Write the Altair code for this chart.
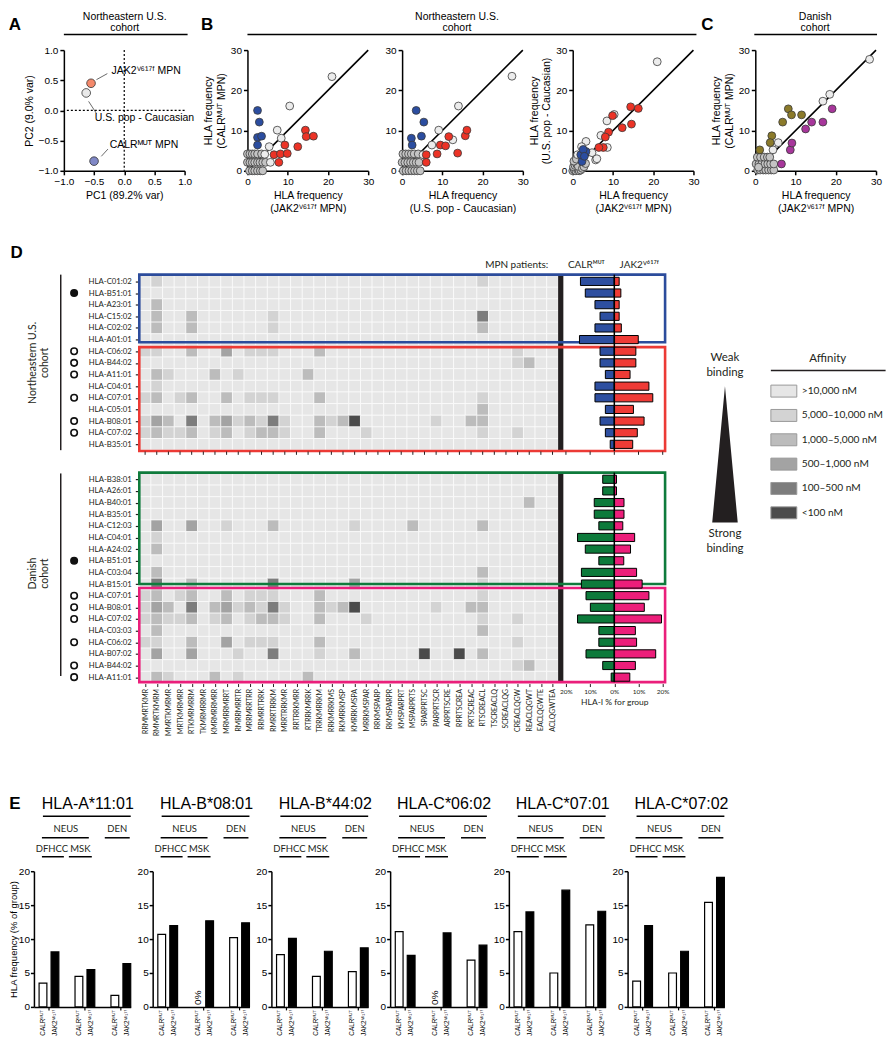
import altair as alt
import pandas as pd

FA = "Liberation Sans"
FD = "Lato"
INK = "#231f20"
ONE = pd.DataFrame({"k": [0]})

# ---------------- Panel A : PCA ----------------
A_GROUP = ["JAK2 MPN", "U.S. pop", "CALR MPN"]
A_PC1 = [-0.55, -0.63, -0.50]
A_PC2 = [0.45, 0.29, -0.84]
A_FILL = ["#f4896b", "#e9e9e9", "#8088c6"]
A_LABEL = ["JAK2ⱽ⁶¹⁷ᶠ MPN", "U.S. pop - Caucasian", "CALRᴹᵁᵀ MPN"]
A_LABEL_X = [-0.21, -0.49, -0.24]
A_LABEL_Y = [0.66, -0.12, -0.57]
A_LEAD_X1 = [-0.46, -0.59, -0.38]
A_LEAD_Y1 = [0.51, 0.15, -0.76]
A_LEAD_X2 = [-0.28, -0.46, -0.27]
A_LEAD_Y2 = [0.61, -0.05, -0.64]

# ---------------- Panel B1 : CALR vs JAK2 (NE) ----------------
B1_GRAY_X = [0.5, 1.2, 1.8, 2.5, 3.2, 3.8, 0.0, 0.6, 1.2, 1.8, 2.5, 3.1, 3.8, 4.5, 0.0, 0.6, 1.2, 1.8, 2.5, 3.5]
B1_GRAY_Y = [0.0, 0.0, 0.0, 0.0, 0.0, 0.0, 2.1, 2.1, 2.1, 2.1, 2.1, 2.1, 2.1, 2.1, 4.2, 4.2, 4.2, 4.2, 4.2, 4.2]
B1_LIGHT_X = [21.0, 10.5, 7.4, 8.4, 5.4, 4.3, 5.7]
B1_LIGHT_Y = [23.4, 16.1, 10.1, 8.1, 6.0, 4.1, 2.1]
B1_BLUE_X = [2.5, 2.95, 2.5, 3.5, 2.5]
B1_BLUE_Y = [15.0, 12.1, 8.3, 8.6, 6.4]
B1_RED_X = [9.3, 6.6, 8.2, 9.9, 7.8, 12.5, 14.4, 14.6, 16.4]
B1_RED_Y = [6.4, 4.0, 4.2, 4.3, 2.1, 6.0, 10.1, 8.5, 8.6]

# ---------------- Panel B2 : CALR vs U.S. pop (NE) ----------------
B2_GRAY_X = [0.3, 1.0, 1.7, 2.4, 3.1, 3.8, 4.5, 0.0, 0.7, 1.4, 2.1, 2.8, 3.5, 4.2, 0.2, 0.9, 1.6, 2.3, 3.0, 4.0]
B2_GRAY_Y = [0.0, 0.0, 0.0, 0.0, 0.0, 0.0, 0.0, 2.1, 2.1, 2.1, 2.1, 2.1, 2.1, 2.1, 4.2, 4.2, 4.2, 4.2, 4.2, 4.2]
B2_LIGHT_X = [27.3, 14.0, 9.1, 12.6, 7.4, 5.2]
B2_LIGHT_Y = [23.5, 16.1, 10.1, 7.7, 6.4, 4.0]
B2_BLUE_X = [3.5, 5.4, 4.8, 2.3, 2.5]
B2_BLUE_Y = [15.0, 12.1, 8.6, 8.1, 6.4]
B2_RED_X = [6.0, 6.0, 8.7, 9.5, 10.8, 11.6, 13.8, 15.7, 16.1]
B2_RED_Y = [4.0, 2.1, 4.2, 6.4, 6.2, 8.5, 4.4, 8.7, 10.1]

# ---------------- Panel B3 : U.S. pop vs JAK2 (NE) ----------------
B3_GRAY_X = [0.0, 0.4, 0.8, 1.2, 1.6, 2.0, 0.2, 0.6, 1.0, 1.4, 2.4, 2.8, 3.2, 0.3, 0.9]
B3_GRAY_Y = [0.0, 0.2, 0.0, 0.3, 0.0, 0.2, 1.0, 1.3, 1.6, 1.1, 0.6, 1.0, 1.8, 2.4, 2.9]
B3_LIGHT_X = [21.0, 10.3, 8.5, 7.0, 8.6, 5.7, 3.3, 2.2, 1.2, 4.8, 6.0]
B3_LIGHT_Y = [27.1, 14.0, 12.4, 8.8, 5.8, 2.7, 7.3, 6.0, 4.0, 4.5, 3.0]
B3_BLUE_X = [2.3, 2.0, 3.3, 2.6, 2.9]
B3_BLUE_Y = [2.3, 4.0, 4.8, 5.3, 3.6]
B3_RED_X = [16.3, 14.4, 14.6, 12.3, 9.9, 8.9, 8.1, 7.6, 6.5]
B3_RED_Y = [15.5, 15.9, 11.6, 10.7, 13.7, 9.6, 8.4, 5.8, 5.8]

# ---------------- Panel C : CALR vs JAK2 (Danish) ----------------
C_GRAY_X = [0.6, 1.2, 2.0, 2.6, 3.3, 4.0, 4.6, 0.2, 0.9, 1.6, 2.4, 3.1, 3.8, 4.6, 0.5, 1.3, 2.2, 3.0, 3.6, 0.8]
C_GRAY_Y = [0.2, 0.2, 0.2, 0.2, 0.2, 0.2, 0.2, 1.7, 1.7, 1.7, 1.7, 1.7, 1.7, 1.7, 3.4, 3.4, 3.4, 3.4, 3.4, 0.9]
C_LIGHT_X = [28.4, 18.5, 16.8, 5.7, 4.4]
C_LIGHT_Y = [27.7, 19.0, 17.3, 7.0, 5.2]
C_OLIVE_X = [1.1, 4.1, 3.7, 6.8, 8.2, 9.0, 11.5]
C_OLIVE_Y = [5.2, 8.7, 7.0, 12.1, 15.4, 13.9, 13.9]
C_MAG_X = [6.5, 8.7, 9.1, 12.5, 14.0, 16.8, 19.1]
C_MAG_Y = [1.7, 5.2, 6.9, 10.4, 12.1, 12.1, 15.4]

# ---------------- Panel D ----------------
PEPTIDES = ["RRMMRTKMR", "RMMRTKMRM", "MMRTKMRMR", "MRTKMRMRR", "RTKMRMRRM", "TKMRMRRMR",
            "KMRMRRMRR", "MRMRRMRRT", "RMRRMRRTR", "MRRMRRTRR", "RRMRRTRRK", "RMRRTRRKM",
            "MRRTRRKMR", "RRTRRKMRR", "RTRRKMRRK", "TRRKMRRKM", "RRKMRRKMS", "RKMRRKMSP",
            "KMRRKMSPA", "MRRKMSPAR", "RRKMSPARP", "RKMSPARPR", "KMSPARPRT", "MSPARPRTS",
            "SPARPRTSC", "PARPRTSCR", "ARPRTSCRE", "RPRTSCREA", "PRTSCREAC", "RTSCREACL",
            "TSCREACLQ", "SCREACLQG", "CREACLQGW", "REACLQGWT", "EACLQGWTE", "ACLQGWTEA"]
NE_ALLELES = ["HLA-C01:02", "HLA-B51:01", "HLA-A23:01", "HLA-C15:02", "HLA-C02:02", "HLA-A01:01",
              "HLA-C06:02", "HLA-B44:02", "HLA-A11:01", "HLA-C04:01", "HLA-C07:01", "HLA-C05:01",
              "HLA-B08:01", "HLA-C07:02", "HLA-B35:01"]
DEN_ALLELES = ["HLA-B38:01", "HLA-A26:01", "HLA-B40:01", "HLA-B35:01", "HLA-C12:03", "HLA-C04:01",
               "HLA-A24:02", "HLA-B51:01", "HLA-C03:04", "HLA-B15:01", "HLA-C07:01", "HLA-B08:01",
               "HLA-C07:02", "HLA-C03:03", "HLA-C06:02", "HLA-B07:02", "HLA-B44:02", "HLA-A11:01"]
# affinity level per (allele, peptide column); unlisted cells are level 0 (>10,000 nM)
AFFINITY = {
    "HLA-C01:02": {1: 1, 29: 1},
    "HLA-A23:01": {1: 2},
    "HLA-C15:02": {1: 2, 4: 2, 11: 1, 29: 4},
    "HLA-C02:02": {1: 2, 4: 2, 11: 1, 29: 2},
    "HLA-C06:02": {0: 1, 1: 1, 4: 2, 7: 3, 9: 1, 10: 1, 11: 1, 15: 2, 32: 1},
    "HLA-B44:02": {32: 1, 33: 2},
    "HLA-A11:01": {1: 2, 2: 1, 6: 2, 8: 1, 14: 2},
    "HLA-C04:01": {1: 1},
    "HLA-C07:01": {0: 1, 1: 2, 3: 1, 4: 2, 7: 2, 9: 1, 10: 1, 11: 1, 15: 2, 29: 1},
    "HLA-C05:01": {29: 2},
    "HLA-B08:01": {0: 1, 1: 3, 2: 2, 4: 4, 6: 2, 7: 3, 8: 1, 9: 2, 10: 1, 11: 4, 12: 1, 15: 2,
                   16: 1, 17: 2, 18: 5, 25: 1, 28: 2, 29: 2},
    "HLA-C07:02": {0: 1, 1: 2, 2: 1, 3: 1, 4: 2, 6: 1, 7: 2, 9: 1, 10: 2, 11: 2, 12: 1, 15: 2,
                   19: 1, 29: 1, 32: 1},
    "HLA-B40:01": {33: 2},
    "HLA-C12:03": {1: 3, 4: 3, 7: 1, 11: 2, 18: 1, 23: 2, 29: 2},
    "HLA-A24:02": {1: 2},
    "HLA-C03:04": {1: 2, 29: 2},
    "HLA-B15:01": {1: 4, 4: 2, 11: 4, 18: 3, 29: 1},
    "HLA-C03:03": {1: 2, 29: 2},
    "HLA-B07:02": {1: 3, 4: 3, 8: 1, 11: 4, 15: 1, 18: 2, 24: 5, 27: 5, 29: 2},
}
AFF_LABELS = [">10,000 nM", "5,000–10,000 nM", "1,000–5,000 nM", "500–1,000 nM", "100–500 nM", "<100 nM"]
AFF_COLORS = ["#e6e6e6", "#d3d3d3", "#bcbcbc", "#a3a3a3", "#7d7d7d", "#4b4b4b"]
MARK_FILLED = ["HLA-B51:01"]
MARK_OPEN = ["HLA-C06:02", "HLA-B44:02", "HLA-A11:01", "HLA-C07:01", "HLA-B08:01", "HLA-C07:02"]
NE_CALR = [14.0, 12.0, 8.0, 5.9, 8.0, 14.4, 5.9, 5.9, 3.7, 8.0, 8.0, 3.7, 5.9, 3.7, 1.7]
NE_JAK2 = [2.0, 2.7, 2.0, 2.0, 2.9, 9.9, 8.9, 8.9, 6.5, 14.3, 15.9, 7.9, 12.3, 9.5, 7.6]
DEN_CALR = [4.8, 4.8, 8.3, 8.3, 6.4, 15.2, 12.0, 6.4, 13.6, 13.6, 11.7, 9.9, 15.2, 6.4, 6.4, 11.7, 4.8, 1.3]
DEN_JAK2 = [0.9, 0.9, 4.0, 4.0, 3.5, 8.4, 6.7, 3.9, 9.2, 11.5, 14.3, 12.4, 19.5, 8.7, 9.2, 17.1, 8.7, 6.4]
DEN_OFFSET = 17.0

# ---------------- Panel E ----------------
E_TITLES = ["HLA-A*11:01", "HLA-B*08:01", "HLA-B*44:02", "HLA-C*06:02", "HLA-C*07:01", "HLA-C*07:02"]
E_GROUPS = ["DFHCC", "MSK", "DEN"]
E_CALR = [[3.5, 4.5, 1.7], [10.7, 0.0, 10.2], [7.7, 4.5, 5.2], [11.1, 0.0, 6.9], [11.1, 5.0, 12.1], [3.8, 5.0, 15.4]]
E_JAK2 = [[8.1, 5.5, 6.4], [12.0, 12.7, 12.4], [10.1, 8.2, 8.7], [7.6, 10.9, 9.1], [14.0, 17.2, 14.1], [12.0, 8.2, 19.1]]

CALR_L = "CALRᴹᵁᵀ"
JAK2_L = "JAK2ⱽ⁶¹⁷ᶠ"


# ---------------- helpers ----------------
def axis(values, title, fmt=None, **kw):
    d = dict(values=values, title=title, labelFont=FA, titleFont=FA, labelFontSize=10,
             titleFontSize=10.5, titleFontWeight="normal", labelColor="black", titleColor="black",
             domainColor="black", tickColor="black", domainWidth=1.5, tickWidth=1.5, tickSize=4,
             labelPadding=2, titlePadding=4, grid=False, labelFlush=False, labelOverlap=False)
    if fmt:
        d["format"] = fmt
    d.update(kw)
    return alt.Axis(**d)


def ghost(x, y1, y2):
    return alt.Chart(ONE).mark_rule(stroke="white", strokeOpacity=0, strokeWidth=1).encode(
        x=alt.value(x), y=alt.value(y1), y2=alt.value(y2))


def txt(text, x, y, size=10.5, font=FA, weight="normal", align="center", baseline="middle",
        angle=0, color="black"):
    kw = dict(text=text, font=font, fontSize=size, fontWeight=weight, align=align,
              baseline=baseline, color=color)
    if angle:
        kw["angle"] = angle
    return alt.Chart(ONE).mark_text(**kw).encode(x=alt.value(x), y=alt.value(y))


def hline(x1, x2, y, width=1.5, color="black"):
    return alt.Chart(ONE).mark_rule(stroke=color, strokeWidth=width).encode(
        x=alt.value(x1), x2=alt.value(x2), y=alt.value(y))


def vtick(x, y1, y2, width=1.2, color="black"):
    return alt.Chart(ONE).mark_rule(stroke=color, strokeWidth=width).encode(
        x=alt.value(x), y=alt.value(y1), y2=alt.value(y2))


def spacer(w):
    return alt.Chart(ONE).mark_rule(strokeOpacity=0, stroke="white").encode(
        x=alt.value(1), y=alt.value(1), y2=alt.value(2)).properties(width=w, height=4)


def header(l1, l2, cx, x1, x2):
    return [txt(l1, cx, -33.5, size=10.5), txt(l2, cx, -22.5, size=10.5), hline(x1, x2, -15.5)]


W1 = 121
H1 = 121

# ---------------- Row 1 ----------------
XA = alt.Scale(domain=[-1, 1], nice=False, zero=False)
YA = alt.Scale(domain=[-1, 1], nice=False, zero=False)
AX_AX = axis([-1, -0.5, 0, 0.5, 1], "PC1 (89.2% var)", ".1f")
AX_AY = axis([-1, -0.5, 0, 0.5, 1], "PC2 (9.0% var)", ".1f")
a_df = pd.DataFrame({"grp": A_GROUP, "pc1": A_PC1, "pc2": A_PC2, "lab": A_LABEL,
                     "lx": A_LABEL_X, "ly": A_LABEL_Y, "x1": A_LEAD_X1, "y1": A_LEAD_Y1,
                     "x2": A_LEAD_X2, "y2": A_LEAD_Y2})
zero_df = pd.DataFrame({"z": [0.0]})
a_pts = alt.Chart(a_df).mark_circle(size=75, stroke="#333", strokeWidth=0.8, opacity=1).encode(
    x=alt.X("pc1:Q", scale=XA, axis=AX_AX),
    y=alt.Y("pc2:Q", scale=YA, axis=AX_AY),
    color=alt.Color("grp:N", scale=alt.Scale(domain=A_GROUP, range=A_FILL), legend=None))
a_v = alt.Chart(zero_df).mark_rule(strokeDash=[2, 2], stroke="black", strokeWidth=1.2).encode(
    x=alt.X("z:Q", scale=XA, axis=AX_AX))
a_h = alt.Chart(zero_df).mark_rule(strokeDash=[2, 2], stroke="black", strokeWidth=1.2).encode(
    y=alt.Y("z:Q", scale=YA, axis=AX_AY))
a_lead = alt.Chart(a_df).mark_rule(stroke="#444", strokeWidth=0.8).encode(
    x=alt.X("x1:Q", scale=XA, axis=AX_AX), x2="x2:Q",
    y=alt.Y("y1:Q", scale=YA, axis=AX_AY), y2="y2:Q")
a_lab = alt.Chart(a_df).mark_text(font=FA, fontSize=10.5, align="left", baseline="middle",
                                  color="black").encode(
    x=alt.X("lx:Q", scale=XA, axis=AX_AX), y=alt.Y("ly:Q", scale=YA, axis=AX_AY), text="lab:N")
panelA = alt.layer(
    a_v, a_h, a_lead, a_pts, a_lab,
    *header("Northeastern U.S.", "cohort", 61, 0, 124),
    txt("A", -49, -25, size=17, weight="bold"),
    ghost(0, -40, 184.5),
).properties(width=W1, height=H1)


def scatter(groups, names, colors, xtitle, ytitle, extras):
    rows = []
    for name, xs, ys in groups:
        for x, y in zip(xs, ys):
            rows.append({"cls": name, "x": x, "y": y})
    df = pd.DataFrame(rows)
    XS = alt.Scale(domain=[0, 30], nice=False, zero=False)
    YS = alt.Scale(domain=[0, 30], nice=False, zero=False)
    ax_x = axis([0, 10, 20, 30], xtitle)
    ax_y = axis([0, 10, 20, 30], ytitle)
    diag = alt.Chart(pd.DataFrame({"x": [0, 30], "y": [0, 30]})).mark_line(
        color="black", strokeWidth=1.6).encode(
        x=alt.X("x:Q", scale=XS, axis=ax_x), y=alt.Y("y:Q", scale=YS, axis=ax_y))
    pts = alt.Chart(df).mark_circle(size=62, stroke="#3a3a3a", strokeWidth=0.8, opacity=1).encode(
        x=alt.X("x:Q", scale=XS, axis=ax_x),
        y=alt.Y("y:Q", scale=YS, axis=ax_y),
        color=alt.Color("cls:N", scale=alt.Scale(domain=names, range=colors), legend=None))
    return alt.layer(diag, pts, *extras).properties(width=W1, height=H1)


NE_NAMES = ["gray", "light", "CALR-high", "JAK2-high"]
NE_COLS = ["#c4c4c4", "#ececec", "#2b4da0", "#ec3326"]
T_JAK2 = ["HLA frequency", "(JAK2ⱽ⁶¹⁷ᶠ MPN)"]
T_CALR = ["HLA frequency", "(CALRᴹᵁᵀ MPN)"]
T_POP = ["HLA frequency", "(U.S. pop - Caucasian)"]

panelB1 = scatter(
    [("gray", B1_GRAY_X, B1_GRAY_Y), ("light", B1_LIGHT_X, B1_LIGHT_Y),
     ("CALR-high", B1_BLUE_X, B1_BLUE_Y), ("JAK2-high", B1_RED_X, B1_RED_Y)],
    NE_NAMES, NE_COLS, T_JAK2, T_CALR,
    header("Northeastern U.S.", "cohort", 210, 0, 450)
    + [txt("B", -40.5, -25, size=17, weight="bold")])
panelB2 = scatter(
    [("gray", B2_GRAY_X, B2_GRAY_Y), ("light", B2_LIGHT_X, B2_LIGHT_Y),
     ("CALR-high", B2_BLUE_X, B2_BLUE_Y), ("JAK2-high", B2_RED_X, B2_RED_Y)],
    NE_NAMES, NE_COLS, T_POP, "", [])
panelB3 = scatter(
    [("gray", B3_GRAY_X, B3_GRAY_Y), ("light", B3_LIGHT_X, B3_LIGHT_Y),
     ("CALR-high", B3_BLUE_X, B3_BLUE_Y), ("JAK2-high", B3_RED_X, B3_RED_Y)],
    NE_NAMES, NE_COLS, T_JAK2, T_POP, [])
panelC = scatter(
    [("gray", C_GRAY_X, C_GRAY_Y), ("light", C_LIGHT_X, C_LIGHT_Y),
     ("CALR-high", C_OLIVE_X, C_OLIVE_Y), ("JAK2-high", C_MAG_X, C_MAG_Y)],
    NE_NAMES, ["#c4c4c4", "#ececec", "#8b7a2a", "#a7369b"], T_JAK2, T_CALR,
    header("Danish", "cohort", 60, -1, 122)
    + [txt("C", -48, -25, size=17, weight="bold")])

RES = dict(color="independent", fill="independent", stroke="independent")
row1 = alt.hconcat(spacer(55), panelA, spacer(63), panelB1, spacer(34), panelB2, spacer(50),
                   panelB3, spacer(62), panelC, spacing=0, bounds="flush").resolve_scale(**RES)

# ---------------- Row 2 : heatmap + bars ----------------
HW = 420
ROWH = HW / 36.0
YMAX = 35.05
HH = YMAX * ROWH
XH = alt.Scale(domain=[0, 36], nice=False, zero=False)
YH = alt.Scale(domain=[0, YMAX], nice=False, zero=False, reverse=True)

cells = []
markers = []
for alleles, off in ((NE_ALLELES, 0.0), (DEN_ALLELES, DEN_OFFSET)):
    for r, a in enumerate(alleles):
        lv = AFFINITY.get(a, {})
        for c in range(36):
            cells.append({"x0": c, "x1": c + 1, "y0": off + r, "y1": off + r + 1,
                          "aff": AFF_LABELS[lv.get(c, 0)]})
        if a in MARK_FILLED:
            markers.append({"mx": -5.6, "my": off + r + 0.5, "kind": "filled"})
        elif a in MARK_OPEN:
            markers.append({"mx": -5.6, "my": off + r + 0.5, "kind": "open"})
cells_df = pd.DataFrame(cells)
mark_df = pd.DataFrame(markers)


def js_arr(items):
    return "[" + ",".join("'" + s + "'" for s in items) + "]"


y_vals = [i + 0.5 for i in range(len(NE_ALLELES))] + [DEN_OFFSET + i + 0.5 for i in range(len(DEN_ALLELES))]
y_expr = ("datum.value < 16 ? " + js_arr(NE_ALLELES) + "[floor(datum.value)] : "
          + js_arr(DEN_ALLELES) + "[floor(datum.value - " + str(DEN_OFFSET) + ")]")
x_expr = js_arr(PEPTIDES) + "[floor(datum.value)]"

HX_AX = alt.Axis(values=[i + 0.5 for i in range(36)], labelExpr=x_expr, labelAngle=270, labelFont=FD,
                 labelFontSize=6.9, labelColor=INK, tickSize=3, tickColor=INK, tickWidth=1,
                 domain=False, grid=False, title="", labelPadding=2, labelOverlap=False,
                 labelFlush=False)
HY_AX = alt.Axis(values=y_vals, labelExpr=y_expr, labelFont=FD, labelFontSize=7.8, labelColor=INK,
                 tickSize=4, tickColor=INK, tickWidth=1.2, domain=False, grid=False, title="",
                 labelPadding=4, labelOverlap=False, labelFlush=False)

heat_cells = alt.Chart(cells_df).mark_rect(stroke="white", strokeWidth=0.6).encode(
    x=alt.X("x0:Q", scale=XH, axis=HX_AX), x2="x1:Q",
    y=alt.Y("y0:Q", scale=YH, axis=HY_AX), y2="y1:Q",
    color=alt.Color("aff:N", scale=alt.Scale(domain=AFF_LABELS, range=AFF_COLORS), legend=None))

BLOCKS_Y0 = [-0.08, 16.93]
BLOCKS_Y1 = [15.07, 34.93]
sep_df = pd.DataFrame({"x0": [35.98, 35.98], "x1": [36.43, 36.43], "y0": BLOCKS_Y0, "y1": BLOCKS_Y1})
heat_sep = alt.Chart(sep_df).mark_rect(color=INK).encode(
    x=alt.X("x0:Q", scale=XH, axis=HX_AX), x2="x1:Q",
    y=alt.Y("y0:Q", scale=YH, axis=HY_AX), y2="y1:Q")

FRAMES = ["blue", "red", "green", "pink"]
FRAME_COLORS = ["#2c4c9c", "#ec3a35", "#0f7b3c", "#ea1f7b"]
FRAME_Y0 = [-0.08, 6.15, 16.93, 26.84]
FRAME_Y1 = [5.73, 15.07, 26.5, 34.93]
frame_df = pd.DataFrame({"frame": FRAMES, "x0": [0.0] * 4, "x1": [45.17] * 4,
                         "y0": FRAME_Y0, "y1": FRAME_Y1})
heat_frames = alt.Chart(frame_df).mark_rect(fillOpacity=0, strokeWidth=2.6).encode(
    x=alt.X("x0:Q", scale=XH, axis=HX_AX), x2="x1:Q",
    y=alt.Y("y0:Q", scale=YH, axis=HY_AX), y2="y1:Q",
    stroke=alt.Stroke("frame:N", scale=alt.Scale(domain=FRAMES, range=FRAME_COLORS), legend=None))

tick_df = pd.DataFrame({"x": [i + 0.5 for i in range(36)], "y0": [15.12] * 36, "y1": [15.4] * 36})
heat_ticks = alt.Chart(tick_df).mark_rule(stroke=INK, strokeWidth=1).encode(
    x=alt.X("x:Q", scale=XH, axis=HX_AX), y=alt.Y("y0:Q", scale=YH, axis=HY_AX), y2="y1:Q")

heat_marks = alt.Chart(mark_df).mark_point(shape="circle", filled=True, size=42, stroke="#111",
                                           strokeWidth=1.6, opacity=1).encode(
    x=alt.X("mx:Q", scale=XH, axis=HX_AX), y=alt.Y("my:Q", scale=YH, axis=HY_AX),
    fill=alt.Fill("kind:N", scale=alt.Scale(domain=["filled", "open"], range=["#111111", "white"]),
                  legend=None))

coh_df = pd.DataFrame({"x": [-6.75, -6.75], "y0": [-0.08, 17.0], "y1": [15.0, 34.4]})
heat_cohline = alt.Chart(coh_df).mark_rule(stroke=INK, strokeWidth=1.5).encode(
    x=alt.X("x:Q", scale=XH, axis=HX_AX), y=alt.Y("y0:Q", scale=YH, axis=HY_AX), y2="y1:Q")

COHORT_TEXT = ["Northeastern U.S.\ncohort", "Danish\ncohort"]
cohtxt_df = pd.DataFrame({"t": COHORT_TEXT, "x": [-9.11, -9.11], "y": [7.5, 25.6]})
heat_cohtxt = alt.Chart(cohtxt_df).mark_text(angle=270, lineBreak="\n", font=FD, fontSize=10.5,
                                             align="center", baseline="middle", color=INK,
                                             lineHeight=11.5).encode(
    x=alt.X("x:Q", scale=XH, axis=HX_AX), y=alt.Y("y:Q", scale=YH, axis=HY_AX), text="t:N")

heat = alt.layer(
    heat_cells, heat_sep, heat_frames, heat_ticks, heat_marks, heat_cohline, heat_cohtxt,
    txt("D", -123, -23, size=17, weight="bold"),
    txt("MPN patients:", 410, -10.2, size=10, font=FD, align="right", color=INK),
    ghost(0, -40, 491),
).properties(width=HW, height=HH)

# bars
BW = 97
XB = alt.Scale(domain=[-20, 20], nice=False, zero=False)
BX_AX = alt.Axis(values=[-20, -10, 0, 10, 20], labelExpr="abs(datum.value) + '%'", labelFont=FD,
                 labelFontSize=6.5, labelColor=INK, title="HLA-I % for group", titleFont=FD,
                 titleFontSize=8.5, titleFontWeight="normal", titleColor=INK, tickSize=3,
                 tickColor=INK, tickWidth=1, domain=False, grid=False, labelPadding=2,
                 titlePadding=2, labelFlush=False, labelOverlap=False)
bar_rows = []
for calr, jak2, off, g1, g2 in ((NE_CALR, NE_JAK2, 0.0, "ne_calr", "ne_jak2"),
                                (DEN_CALR, DEN_JAK2, DEN_OFFSET, "den_calr", "den_jak2")):
    for r, (c, j) in enumerate(zip(calr, jak2)):
        bar_rows.append({"x0": 0.0, "x1": -c, "y0": off + r + 0.15, "y1": off + r + 0.85, "grp": g1})
        bar_rows.append({"x0": 0.0, "x1": j, "y0": off + r + 0.15, "y1": off + r + 0.85, "grp": g2})
bar_df = pd.DataFrame(bar_rows)
BAR_GRPS = ["ne_calr", "ne_jak2", "den_calr", "den_jak2"]
BAR_COLS = ["#2e4fa0", "#ef3b36", "#0d7a3b", "#ec1e7a"]
bars = alt.Chart(bar_df).mark_rect(stroke="black", strokeWidth=1).encode(
    x=alt.X("x0:Q", scale=XB, axis=BX_AX), x2="x1:Q",
    y=alt.Y("y0:Q", scale=YH, axis=None), y2="y1:Q",
    color=alt.Color("grp:N", scale=alt.Scale(domain=BAR_GRPS, range=BAR_COLS), legend=None))
zl_df = pd.DataFrame({"z": [0.0, 0.0], "y0": BLOCKS_Y0, "y1": BLOCKS_Y1})
bars_zero = alt.Chart(zl_df).mark_rule(stroke="black", strokeWidth=1.5).encode(
    x=alt.X("z:Q", scale=XB, axis=BX_AX), y=alt.Y("y0:Q", scale=YH, axis=None), y2="y1:Q")
bt_df = pd.DataFrame({"x": [-20, -10, 0, 10, 20], "y0": [15.12] * 5, "y1": [15.4] * 5})
bars_ticks = alt.Chart(bt_df).mark_rule(stroke=INK, strokeWidth=1).encode(
    x=alt.X("x:Q", scale=XB, axis=BX_AX), y=alt.Y("y0:Q", scale=YH, axis=None), y2="y1:Q")
tri = alt.Chart(ONE).mark_point(shape="M0,-1L0.187,1L-0.187,1Z", filled=True, size=18687,
                                color=INK, opacity=1).encode(x=alt.value(159.4), y=alt.value(179.2))

# affinity key (drawn beside the bars, in pixels of the bar panel)
key_layers = [txt("Affinity", 262.4, 84.1, size=11.5, font=FD, color=INK),
              hline(205.4, 320.4, 95.1, width=1.5, color=INK)]
for k, (lab, col) in enumerate(zip(AFF_LABELS, AFF_COLORS)):
    yc = 115.8 + 24.4 * k
    key_layers.append(alt.Chart(ONE).mark_rect(fill=col, stroke="#9a9a9a", strokeWidth=1).encode(
        x=alt.value(205.4), x2=alt.value(231.4), y=alt.value(yc - 6), y2=alt.value(yc + 6)))
    key_layers.append(txt(lab, 236.4, yc, size=10.2, font=FD, align="left", color=INK))

barchart = alt.layer(
    bars, bars_zero, bars_ticks,
    txt(CALR_L, 20.4, -10.2, size=10, font=FD, color=INK),
    txt(JAK2_L, 73.4, -10.2, size=10, font=FD, color=INK),
    txt("Weak", 159.4, 82.5, size=11.5, font=FD, color=INK),
    txt("binding", 159.4, 97.5, size=11.5, font=FD, color=INK),
    tri,
    txt("Strong", 159.4, 259.5, size=11.5, font=FD, color=INK),
    txt("binding", 159.4, 274, size=11.5, font=FD, color=INK),
    *key_layers,
).properties(width=BW, height=HH)

row2 = alt.hconcat(spacer(122.4), heat, barchart, spacing=7.6, bounds="flush").resolve_scale(**RES)

# ---------------- Row 3 : panel E ----------------
EW = 97
EP = 136          # plot height
ETOP = 84         # header band above the plot, inside the view
EHT = ETOP + EP
E_SLOTS = ["DFHCC|CALR", "DFHCC|JAK2", "gap1", "MSK|CALR", "MSK|JAK2", "gap2", "DEN|CALR", "DEN|JAK2"]
E_PAIR_TICKS = [15.1, 51.1, 87.1]


def e_panel(i):
    slots, vals, sers, labs = [], [], [], []
    for g, grp in enumerate(E_GROUPS):
        slots += [grp + "|CALR", grp + "|JAK2"]
        vals += [E_CALR[i][g], E_JAK2[i][g]]
        sers += ["CALR", "JAK2"]
        labs += [CALR_L, JAK2_L]
    df = pd.DataFrame({"slot": slots, "val": vals, "ser": sers, "lab": labs})
    XE = alt.Scale(domain=E_SLOTS, paddingInner=0.35, paddingOuter=0.215, align=1)
    YE = alt.Scale(domain=[0, 20], nice=False, zero=True, range=[EHT, ETOP])
    ykw = dict(tickSize=3.5, labelPadding=1)
    if i == 0:
        ykw.update(titleFontSize=9.5, titleX=-15)
        ytitle = "HLA frequency (% of group)"
    else:
        ytitle = ""
    yax = axis([0, 5, 10, 15, 20], ytitle, **ykw)
    xax = alt.Axis(labels=False, ticks=False, title="", domainColor="black", domainWidth=1.5, grid=False)
    bars_e = alt.Chart(df).transform_filter("datum.val > 0").mark_bar(
        stroke="black", strokeWidth=1.2).encode(
        x=alt.X("slot:N", scale=XE, axis=xax),
        y=alt.Y("val:Q", scale=YE, axis=yax),
        fill=alt.Fill("ser:N", scale=alt.Scale(domain=["CALR", "JAK2"], range=["white", "black"]),
                      legend=None))
    labels_e = alt.Chart(df).mark_text(angle=270, align="right", baseline="middle", font=FA,
                                       fontSize=6.4, color="black").encode(
        x=alt.X("slot:N", scale=XE, axis=xax), y=alt.value(EHT + 3), text="lab:N")
    zero_e = alt.Chart(df).transform_filter("datum.val == 0").mark_text(
        text="0%", angle=270, align="left", baseline="middle", font=FA, fontSize=10,
        color="black").encode(x=alt.X("slot:N", scale=XE, axis=xax), y=alt.value(EHT - 2))
    t = ETOP
    layers = [bars_e, labels_e, zero_e,
              txt(E_TITLES[i], 54, t - 67, size=16),
              hline(9, 97, t - 55),
              txt("NEUS", 32, t - 42, size=9.5, font=FD, color=INK),
              txt("DEN", 83.5, t - 42, size=9.5, font=FD, color=INK),
              hline(8, 55, t - 33.5), hline(71, 96, t - 33.5),
              txt("DFHCC", 18, t - 22, size=9.5, font=FD, color=INK),
              txt("MSK", 46.5, t - 22, size=9.5, font=FD, color=INK),
              hline(8, 30, t - 14.5), hline(35, 58, t - 14.5)]
    layers += [vtick(px, EHT, EHT + 3.5) for px in E_PAIR_TICKS]
    if i == 0:
        layers += [txt("E", -19, t - 67, size=17, weight="bold"), ghost(0, -20, 0)]
    return alt.layer(*layers).properties(width=EW, height=EHT)


row3 = alt.hconcat(spacer(3), *[e_panel(i) for i in range(6)], spacing=22,
                   bounds="flush").resolve_scale(**RES)

chart = alt.vconcat(row1, row2, row3, spacing=0).resolve_scale(**RES).properties(
    padding={"left": 0, "top": 0, "right": 0, "bottom": 0}
).configure_view(stroke="transparent")

chart.save("out.html", embed_options={"renderer": "svg", "actions": False})
